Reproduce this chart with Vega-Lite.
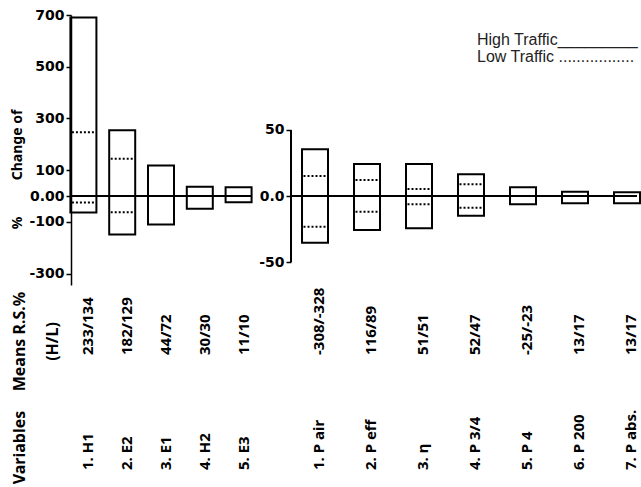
{
  "$schema": "https://vega.github.io/schema/vega-lite/v6.json",
  "background": "white",
  "padding": {"left": 10, "top": 8, "right": 0, "bottom": 0},
  "bounds": "flush",
  "columns": 2,
  "spacing": {"row": 56, "column": 40},
  "config": {"view": {"stroke": null}, "axis": {"grid": false}},
  "datasets": {
    "leftvars": [
      {"var": "1. H1", "means": "233/134", "hi_max": 690, "hi_min": -64, "lo_max": 247, "lo_min": -25},
      {"var": "2. E2", "means": "182/129", "hi_max": 254, "hi_min": -149, "lo_max": 144, "lo_min": -63},
      {"var": "3. E1", "means": "44/72", "hi_max": 118, "hi_min": -110, "lo_max": null, "lo_min": null},
      {"var": "4. H2", "means": "30/30", "hi_max": 36, "hi_min": -49, "lo_max": null, "lo_min": null},
      {"var": "5. E3", "means": "11/10", "hi_max": 34, "hi_min": -24, "lo_max": null, "lo_min": null}
    ],
    "rightvars": [
      {"var": "1. P air", "means": "-308/-328", "hi_max": 35.4, "hi_min": -35.4, "lo_max": 15.2, "lo_min": -23.3},
      {"var": "2. P eff", "means": "116/89", "hi_max": 24.2, "hi_min": -25.8, "lo_max": 12.1, "lo_min": -12.0},
      {"var": "3. η", "means": "51/51", "hi_max": 24.2, "hi_min": -24.5, "lo_max": 5.3, "lo_min": -6.3},
      {"var": "4. P 3/4", "means": "52/47", "hi_max": 16.4, "hi_min": -15.0, "lo_max": 8.9, "lo_min": -8.9},
      {"var": "5. P 4", "means": "-25/-23", "hi_max": 6.6, "hi_min": -6.3, "lo_max": null, "lo_min": null},
      {"var": "6. P 200", "means": "13/17", "hi_max": 3.2, "hi_min": -5.5, "lo_max": null, "lo_min": null},
      {"var": "7. P abs.", "means": "13/17", "hi_max": 2.8, "hi_min": -5.5, "lo_max": null, "lo_min": null}
    ]
  },
  "concat": [
    {
      "width": 180,
      "height": 270,
      "data": {"name": "leftvars"},
      "layer": [
        {
          "mark": {"type": "rule", "color": "black", "strokeWidth": 1.5},
          "encoding": {
            "y": {
              "datum": 0, "type": "quantitative",
              "scale": {"domain": [-344, 700], "nice": false, "zero": false},
              "axis": {
                "values": [700, 500, 300, 100, 0, -100, -300],
                "labelExpr": "datum.value == 0 ? '0.00' : '' + datum.value",
                "labelFont": "DejaVu Sans", "labelFontWeight": "bold", "labelFontSize": 14, "labelColor": "black",
                "labelPadding": 2, "labelFlush": false, "labelOverlap": false, "labelBound": false,
                "tickSize": 5, "tickColor": "black", "tickWidth": 1.5,
                "domainColor": "black", "domainWidth": 1.5,
                "title": "%\u00a0\u00a0\u00a0\u00a0\u00a0\u00a0\u00a0\u00a0\u00a0\u00a0Change of",
                "titleFont": "Noto Sans", "titleFontSize": 14, "titleFontWeight": "bold", "titleColor": "black",
                "titlePadding": 4, "titleY": 154, "titleAlign": "center"
              }
            }
          }
        },
        {
          "mark": {"type": "bar", "filled": false, "color": "black", "strokeWidth": 2, "width": 26},
          "encoding": {
            "x": {"field": "var", "type": "nominal", "sort": null, "scale": {"type": "point", "padding": 0.32}, "axis": null},
            "y": {"field": "hi_max", "type": "quantitative"},
            "y2": {"field": "hi_min"}
          }
        },
        {
          "transform": [{"filter": "datum.lo_max != null"}],
          "mark": {"type": "bar", "filled": false, "color": "black", "strokeWidth": 2, "strokeDash": [2, 2], "width": 23},
          "encoding": {
            "x": {"field": "var", "type": "nominal", "sort": null, "axis": null},
            "y": {"field": "lo_max", "type": "quantitative"},
            "y2": {"field": "lo_max"}
          }
        },
        {
          "transform": [{"filter": "datum.lo_min != null"}],
          "mark": {"type": "bar", "filled": false, "color": "black", "strokeWidth": 2, "strokeDash": [2, 2], "width": 23},
          "encoding": {
            "x": {"field": "var", "type": "nominal", "sort": null, "axis": null},
            "y": {"field": "lo_min", "type": "quantitative"},
            "y2": {"field": "lo_min"}
          }
        }
      ]
    },
    {
      "width": 346,
      "height": 270,
      "data": {"name": "rightvars"},
      "layer": [
        {
          "mark": {"type": "rule", "color": "black", "strokeWidth": 1.5},
          "encoding": {
            "y": {
              "datum": 0, "type": "quantitative",
              "scale": {"domain": [-67.4, 137.1], "nice": false, "zero": false},
              "axis": {
                "values": [50, 0, -50],
                "labelExpr": "datum.value == 0 ? '0.0' : '' + datum.value",
                "labelFont": "DejaVu Sans", "labelFontWeight": "bold", "labelFontSize": 14, "labelColor": "black",
                "labelPadding": 2, "labelFlush": false, "labelOverlap": false, "labelBound": false,
                "tickSize": 5, "tickColor": "black", "tickWidth": 1.5,
                "domain": false, "title": null
              }
            }
          }
        },
        {
          "mark": {"type": "rule", "color": "black", "strokeWidth": 1.5, "xOffset": -24},
          "encoding": {
            "x": {"datum": "1. P air", "type": "nominal", "axis": null},
            "y": {"datum": 50, "type": "quantitative"},
            "y2": {"datum": -50}
          }
        },
        {
          "mark": {"type": "bar", "filled": false, "color": "black", "strokeWidth": 2, "width": 26},
          "encoding": {
            "x": {"field": "var", "type": "nominal", "sort": null, "scale": {"type": "point", "padding": 0.327, "align": 0.706}, "axis": null},
            "y": {"field": "hi_max", "type": "quantitative"},
            "y2": {"field": "hi_min"}
          }
        },
        {
          "transform": [{"filter": "datum.lo_max != null"}],
          "mark": {"type": "bar", "filled": false, "color": "black", "strokeWidth": 2, "strokeDash": [2, 2], "width": 23},
          "encoding": {
            "x": {"field": "var", "type": "nominal", "sort": null, "axis": null},
            "y": {"field": "lo_max", "type": "quantitative"},
            "y2": {"field": "lo_max"}
          }
        },
        {
          "transform": [{"filter": "datum.lo_min != null"}],
          "mark": {"type": "bar", "filled": false, "color": "black", "strokeWidth": 2, "strokeDash": [2, 2], "width": 23},
          "encoding": {
            "x": {"field": "var", "type": "nominal", "sort": null, "axis": null},
            "y": {"field": "lo_min", "type": "quantitative"},
            "y2": {"field": "lo_min"}
          }
        },
        {
          "transform": [{"filter": "datum.var == '4. P 3/4'"}],
          "mark": {"type": "text", "align": "left", "baseline": "alphabetic", "font": "Liberation Sans", "fontSize": 16, "lineHeight": 17, "color": "#222", "dx": 6},
          "encoding": {
            "x": {"field": "var", "type": "nominal", "sort": null, "axis": null},
            "y": {"datum": 114, "type": "quantitative"},
            "text": {"value": ["High Traffic_________", "Low Traffic ................."]}
          }
        }
      ]
    },
    {
      "width": 180,
      "height": 106,
      "data": {"name": "leftvars"},
      "transform": [{"fold": ["means", "var"], "as": ["key", "val"]}],
      "layer": [
        {
          "transform": [{"filter": "datum.key == 'means'"}],
          "mark": {"type": "text", "angle": 270, "align": "left", "baseline": "middle", "dx": -14, "dy": 5, "font": "Noto Sans", "fontWeight": "bold", "fontSize": 15, "color": "black"},
          "encoding": {
            "x": {"field": "var", "type": "nominal", "sort": null, "scale": {"type": "point", "padding": 0.32}, "axis": null},
            "y": {
              "field": "key", "type": "nominal",
              "scale": {"type": "point", "domain": ["means", "var"], "padding": 0},
              "axis": {
                "title": null, "domain": false, "ticks": false, "tickSize": 0,
                "labelAngle": 270, "labelAlign": "center", "labelBaseline": "top",
                "labelPadding": 60, "labelLineHeight": 33,
                "labelFont": "Noto Sans", "labelFontWeight": "bold", "labelFontSize": 16, "labelColor": "black",
                "labelOverlap": false, "labelBound": false,
                "labelExpr": "datum.value == 'means' ? ['Means R.S.%', '(H/L)'] : 'Variables'"
              }
            },
            "text": {"field": "val"}
          }
        },
        {
          "transform": [{"filter": "datum.key == 'var'"}],
          "mark": {"type": "text", "angle": 270, "align": "left", "baseline": "middle", "dx": -23, "dy": 5, "font": "Noto Sans", "fontWeight": "bold", "fontSize": 15, "color": "black"},
          "encoding": {
            "x": {"field": "var", "type": "nominal", "sort": null, "axis": null},
            "y": {"field": "key", "type": "nominal"},
            "text": {"field": "val"}
          }
        }
      ]
    },
    {
      "width": 346,
      "height": 106,
      "data": {"name": "rightvars"},
      "transform": [{"fold": ["means", "var"], "as": ["key", "val"]}],
      "layer": [
        {
          "transform": [{"filter": "datum.key == 'means'"}],
          "mark": {"type": "text", "angle": 270, "align": "left", "baseline": "middle", "dx": -14, "dy": 4, "font": "Noto Sans", "fontWeight": "bold", "fontSize": 15, "color": "black"},
          "encoding": {
            "x": {"field": "var", "type": "nominal", "sort": null, "scale": {"type": "point", "padding": 0.327, "align": 0.706}, "axis": null},
            "y": {"field": "key", "type": "nominal", "scale": {"type": "point", "domain": ["means", "var"], "padding": 0}, "axis": null},
            "text": {"field": "val"}
          }
        },
        {
          "transform": [{"filter": "datum.key == 'var'"}],
          "mark": {"type": "text", "angle": 270, "align": "left", "baseline": "middle", "dx": -23, "dy": 4, "font": "Noto Sans", "fontWeight": "bold", "fontSize": 15, "color": "black"},
          "encoding": {
            "x": {"field": "var", "type": "nominal", "sort": null, "axis": null},
            "y": {"field": "key", "type": "nominal", "axis": null},
            "text": {"field": "val"}
          }
        }
      ]
    }
  ]
}
